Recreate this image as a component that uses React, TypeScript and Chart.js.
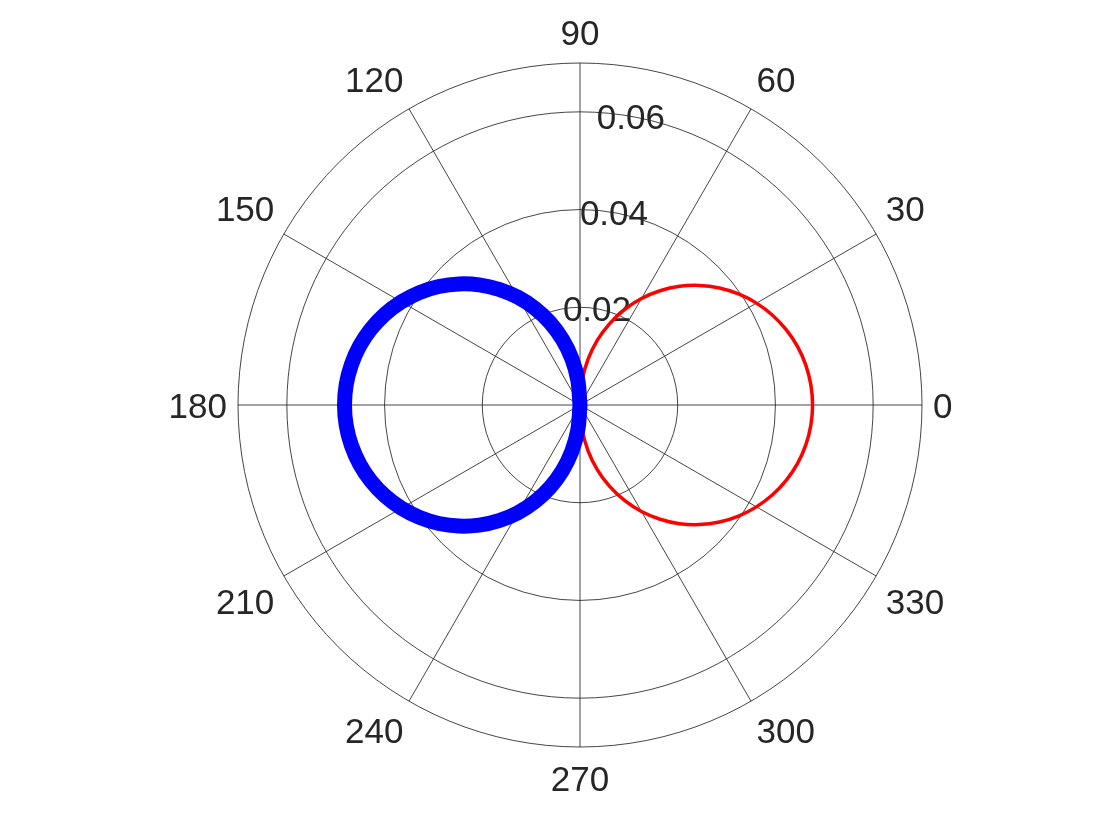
import React, { useEffect, useRef } from "react";
import { Chart, registerables } from "chart.js";

Chart.register(...registerables);

// Angle tick labels (degrees) and radial tick labels
const THETA_TICKS = [0, 30, 60, 90, 120, 150, 180, 210, 240, 270, 300, 330];
const R_TICKS = [0.02, 0.04, 0.06];
const R_MAX = 0.07;

// Red series: angle (deg) and radius
const RED_THETA = [-90, -85, -80, -75, -70, -65, -60, -55, -50, -45, -40, -35, -30, -25, -20, -15, -10, -5, 0, 5, 10, 15, 20, 25, 30, 35, 40, 45, 50, 55, 60, 65, 70, 75, 80, 85, 90];
const RED_R = [0, 0.00504, 0.00951, 0.01373, 0.01774, 0.02155, 0.02516, 0.02854, 0.0317, 0.0346, 0.03725, 0.03962, 0.0417, 0.04348, 0.04495, 0.04611, 0.04693, 0.04743, 0.0476, 0.04743, 0.04693, 0.04611, 0.04495, 0.04348, 0.0417, 0.03962, 0.03725, 0.0346, 0.0317, 0.02854, 0.02516, 0.02155, 0.01774, 0.01373, 0.00951, 0.00504, 0];

// Blue series: angle (deg) and radius
const BLUE_THETA = [90, 95, 100, 105, 110, 115, 120, 125, 130, 135, 140, 145, 150, 155, 160, 165, 170, 175, 180, 185, 190, 195, 200, 205, 210, 215, 220, 225, 230, 235, 240, 245, 250, 255, 260, 265, 270];
const BLUE_R = [0, 0.0051, 0.00963, 0.0139, 0.01796, 0.02182, 0.02547, 0.0289, 0.0321, 0.03504, 0.03772, 0.04012, 0.04223, 0.04403, 0.04552, 0.04669, 0.04752, 0.04803, 0.0482, 0.04803, 0.04752, 0.04669, 0.04552, 0.04403, 0.04223, 0.04012, 0.03772, 0.03504, 0.0321, 0.0289, 0.02547, 0.02182, 0.01796, 0.0139, 0.00963, 0.0051, 0];

// Radar categories: counter-clockwise from 0 deg (radar draws clockwise)
const STEP = 5;
const RADAR_ANGLES = Array.from({ length: 360 / STEP }, (_, i) => (360 - STEP * i) % 360);

const norm = (a: number) => ((a % 360) + 360) % 360;
const toRadar = (thetas: number[], rs: number[]) =>
  RADAR_ANGLES.map((a) => {
    const j = thetas.findIndex((t) => norm(t) === a);
    return j >= 0 ? rs[j] : null;
  });

const FONT_SIZE = 35;
const FONT = `${FONT_SIZE}px "Liberation Sans", Arial, Helvetica, sans-serif`;
const TEXT_COLOR = "#262626";
const GRID_COLOR = "rgba(38,38,38,0.85)";

const labelPlugin = {
  id: "polarLabels",
  beforeDatasetsDraw(chart: any) {
    const scale = chart.scales.r;
    const ctx = chart.ctx;
    const cx = scale.xCenter;
    const cy = scale.yCenter;
    const R = scale.getDistanceFromCenterForValue(R_MAX);
    ctx.save();
    ctx.font = FONT;
    ctx.fillStyle = TEXT_COLOR;
    ctx.textAlign = "center";
    ctx.textBaseline = "alphabetic";
    const half = FONT_SIZE * 0.36;
    const hh = 20;
    const pad = 11;
    // angle labels
    THETA_TICKS.forEach((t) => {
      const idx = RADAR_ANGLES.indexOf(t);
      const p = scale.getPointPosition(idx, R);
      const dx = (p.x - cx) / R;
      const dy = (p.y - cy) / R;
      const txt = String(t);
      const w = ctx.measureText(txt).width;
      const px = cx + dx * (R + pad);
      const py = cy + dy * (R + pad);
      const sx = Math.abs(dx) < 1e-6 ? 0 : Math.sign(dx);
      const sy = Math.abs(dy) < 1e-6 ? 0 : Math.sign(dy);
      ctx.fillText(txt, px + sx * (w / 2), py + sy * hh + half);
    });
    // radial labels at 80 degrees
    const a = (80 * Math.PI) / 180;
    R_TICKS.forEach((v) => {
      const d = scale.getDistanceFromCenterForValue(v);
      ctx.fillText(v.toFixed(2), cx + d * Math.cos(a), cy - d * Math.sin(a) + half);
    });
    ctx.restore();
  },
};

export default function App() {
  const ref = useRef<HTMLCanvasElement>(null);
  useEffect(() => {
    if (!ref.current) return;
    const chart = new Chart(ref.current, {
      type: "radar",
      data: {
        labels: RADAR_ANGLES.map(String),
        datasets: [
          {
            data: toRadar(BLUE_THETA, BLUE_R),
            borderColor: "#0000FF",
            borderWidth: 15,
            fill: false,
            tension: 0.35,
            pointRadius: 0,
            pointHoverRadius: 0,
            spanGaps: false,
            borderJoinStyle: "round",
            borderCapStyle: "round",
          },
          {
            data: toRadar(RED_THETA, RED_R),
            borderColor: "#FF0000",
            borderWidth: 3.5,
            fill: false,
            tension: 0.35,
            pointRadius: 0,
            pointHoverRadius: 0,
            spanGaps: false,
            borderJoinStyle: "round",
            borderCapStyle: "round",
          },
        ],
      },
      options: {
        animation: false,
        responsive: false,
        events: [],
        layout: { padding: { left: 238, right: 198, top: 63, bottom: 93 } },
        plugins: { legend: { display: false }, tooltip: { enabled: false } },
        scales: {
          r: {
            min: 0,
            max: R_MAX,
            startAngle: 90,
            afterBuildTicks: (s: any) => {
              s.ticks = [0, ...R_TICKS, R_MAX].map((v) => ({ value: v }));
            },
            ticks: { display: false },
            pointLabels: { display: false },
            grid: { circular: true, color: GRID_COLOR, lineWidth: 1 },
            angleLines: {
              display: true,
              color: GRID_COLOR,
              lineWidth: (c: any) => (RADAR_ANGLES[c.index] % 30 === 0 ? 1 : 0),
            },
          },
        },
      },
      plugins: [labelPlugin],
    } as any);
    return () => chart.destroy();
  }, []);
  return (
    <div style={{ position: "fixed", left: 0, top: 0, width: 1120, height: 840, background: "#fff" }}>
      <canvas ref={ref} width={1120} height={840} style={{ display: "block" }} />
    </div>
  );
}
